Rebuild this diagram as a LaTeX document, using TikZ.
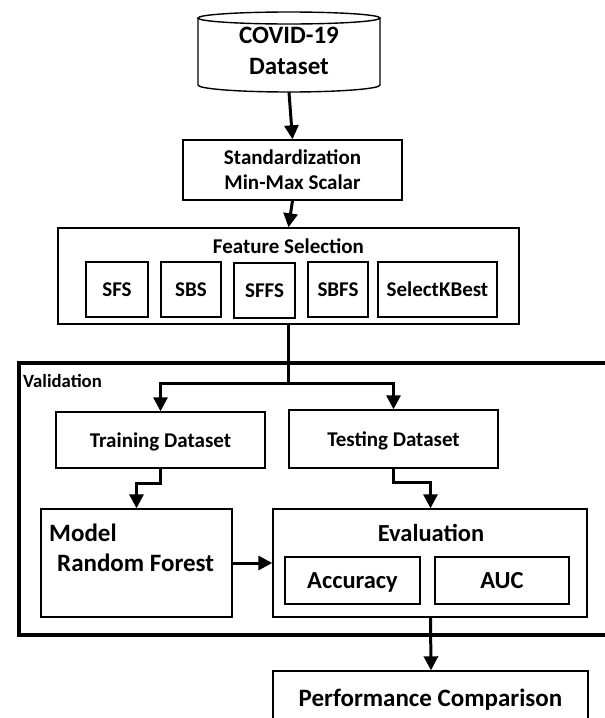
\documentclass[tikz,border=0pt]{standalone}
\usepackage{fontspec}
\setmainfont{Carlito}
\usetikzlibrary{arrows.meta}
\begin{document}
\begin{tikzpicture}[x=1pt,y=-1pt,
  box/.style={draw=black,line width=1.4pt,inner sep=0pt,align=center},
  txt/.style={inner sep=0pt,align=center,font=\bfseries\fontsize{21}{25}\selectfont},
  one/.style={text depth=0pt},
  big/.style={font=\bfseries\fontsize{24.5}{28}\selectfont},
  conn/.style={line width=3pt,-{Triangle[width=14pt,length=14pt]}},
  plain/.style={line width=3pt},
]
\useasboundingbox (0,0) rectangle (605,718);
\fill[white] (0,0) rectangle (605,718);
% cylinder
\draw[line width=1.4pt] (198,18) -- (198,85) arc[start angle=180,end angle=0,x radius=91,y radius=7] -- (380,18);
\draw[line width=1.4pt] (289,18) ellipse[x radius=91,y radius=6];
\node[txt,font=\bfseries\fontsize{25}{31}\selectfont,minimum width=182,minimum height=82] (cyl) at (289,51) {COVID-19\\Dataset};
% standardization
\node[box,txt,minimum width=219,minimum height=60] (std) at (292.5,170) {Standardization\\Min-Max Scalar};
% feature selection
\node[box,minimum width=461,minimum height=96] (fs) at (288.5,276) {};
\node[txt,one] (fstitle) at (288.5,246) {Feature Selection};
\node[box,txt,one,minimum width=62,minimum height=55] (sfs) at (117,289.5) {SFS};
\node[box,txt,one,minimum width=60,minimum height=55] (sbs) at (191,289.5) {SBS};
\node[box,txt,one,minimum width=61,minimum height=55] (sffs) at (264.5,290.5) {SFFS};
\node[box,txt,one,minimum width=60,minimum height=55] (sbfs) at (338,289.5) {SBFS};
\node[box,txt,one,minimum width=119,minimum height=55] (skb) at (437.5,289.5) {SelectKBest};
% validation frame
\coordinate (vtr) at (610,363);
\coordinate (vbr) at (610,635);
\draw[line width=3.2pt] (vtr) -- (19,363) -- (19,635) -- (vbr);
\node[txt,one,anchor=west,font=\bfseries\fontsize{18.7}{22}\selectfont] (val) at (23,381) {Validation};
% training / testing
\node[box,txt,one,minimum width=209,minimum height=56] (train) at (160.5,440) {Training Dataset};
\node[box,txt,one,minimum width=209,minimum height=58] (test) at (393.5,439) {Testing Dataset};
% model
\node[box,minimum width=191,minimum height=108] (model) at (136.5,563) {};
\node[txt,one,font=\bfseries\fontsize{25}{28}\selectfont,anchor=west] (modelt) at (49,533) {Model};
\node[txt,one,font=\bfseries\fontsize{25}{28}\selectfont,anchor=west] (rf) at (57,563) {Random Forest};
% evaluation
\node[box,minimum width=314,minimum height=108] (eval) at (430,563) {};
\node[txt,one,big] (evalt) at (431,533) {Evaluation};
\node[box,txt,one,big,minimum width=135,minimum height=47] (acc) at (352.5,580.5) {Accuracy};
\node[box,txt,one,big,minimum width=134,minimum height=47] (auc) at (502,580.5) {AUC};
% performance
\node[box,txt,one,font=\bfseries\fontsize{25}{28}\selectfont,minimum width=315,minimum height=54] (perf) at (430.5,698) {Performance Comparison};
% connectors
\draw[conn] (cyl.south) -- (std.north);
\draw[conn] (std.south) -- (fs.north);
\draw[plain] (fs.south) -- ++(0,59) coordinate (split);
\draw[conn] (split) -| (train.north);
\draw[conn] (split) -| (test.north);
\draw[conn] (train.south) -- ++(0,15) -| (model.north);
\draw[conn] (test.south) -- ++(0,14) -| ([xshift=0.5pt]eval.north);
\draw[conn] (model.east) -- (eval.west);
\draw[conn] ([xshift=0.5pt]eval.south) -- ([xshift=0.5pt]perf.north);
\end{tikzpicture}
\end{document}
